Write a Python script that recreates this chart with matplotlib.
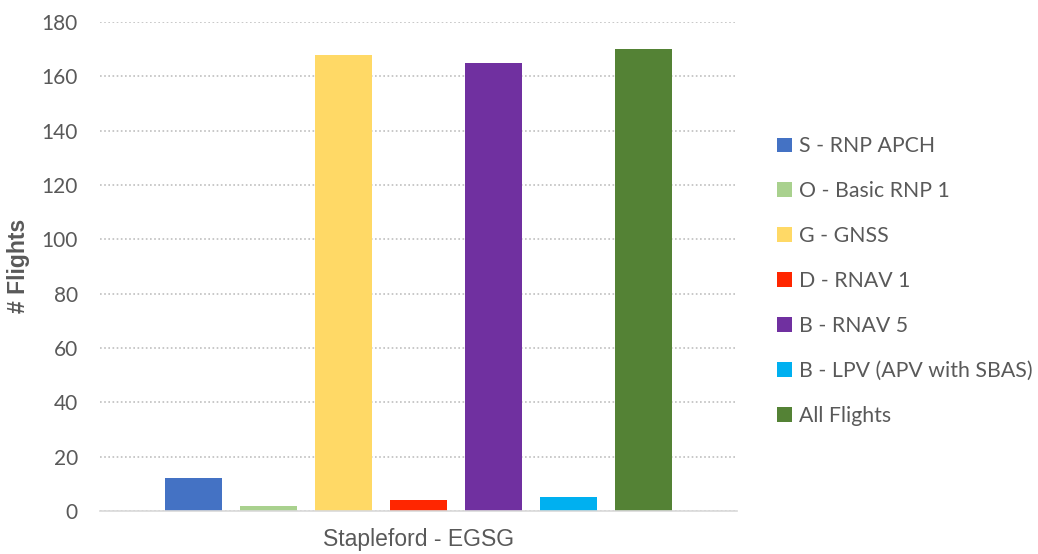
import matplotlib
matplotlib.use("Agg")
import matplotlib.pyplot as plt
from matplotlib.patches import Patch

# --- data ---
series = ["S - RNP APCH", "O - Basic RNP 1", "G - GNSS", "D - RNAV 1",
          "B - RNAV 5", "B - LPV (APV with SBAS)", "All Flights"]
flights = [12, 2, 168, 4, 165, 5, 170]
colors = ["#4472C4", "#A9D18E", "#FFD966", "#FF2600",
          "#7030A0", "#00B0F0", "#548235"]
category = "Stapleford - EGSG"
yticks = list(range(0, 181, 20))

TXT = "#595959"

fig = plt.figure(figsize=(10.38, 5.54), dpi=100)
ax = fig.add_axes([100 / 1038, 1 - 511 / 554, 637 / 1038, 489 / 554])

x = list(range(len(flights)))
ax.bar(x, flights, width=0.773, color=colors, zorder=3)

half = 637 / 75 / 2
ax.set_xlim(3 - half, 3 + half)
ax.set_ylim(0, 180)
ax.set_yticks(yticks)
ax.set_yticklabels([str(t) for t in yticks], family="Lato", fontsize=15, color=TXT)
ax.set_xticks([3])
ax.set_xticklabels([category], family="Liberation Sans", fontsize=16.5, color=TXT)
ax.tick_params(axis="y", length=0, pad=16)
ax.tick_params(axis="x", length=0, pad=12)

ax.grid(axis="y", linestyle=(0, (1, 1.5)), color="#BFBFBF", linewidth=1.2, zorder=0)
for s in ["top", "right", "left"]:
    ax.spines[s].set_visible(False)
ax.spines["bottom"].set_color("#D9D9D9")
ax.spines["bottom"].set_linewidth(1.2)
ax.spines["bottom"].set_zorder(4)

fig.text(19 / 1038, 1 - 266 / 554, "# Flights", rotation=90, ha="center", va="center",
         family="Liberation Sans", fontsize=16.5, fontweight="bold", color=TXT)

handles = [Patch(facecolor=c, edgecolor="none") for c in colors]
fig.legend(handles, series, loc="center left", bbox_to_anchor=(758 / 1038, 1 - 281 / 554),
           frameon=False, prop={"family": "Lato", "size": 15.3},
           labelcolor=TXT, handlelength=0.7, handleheight=0.7,
           handletextpad=0.35, labelspacing=1.17)

fig.savefig("out.png", dpi=100)
